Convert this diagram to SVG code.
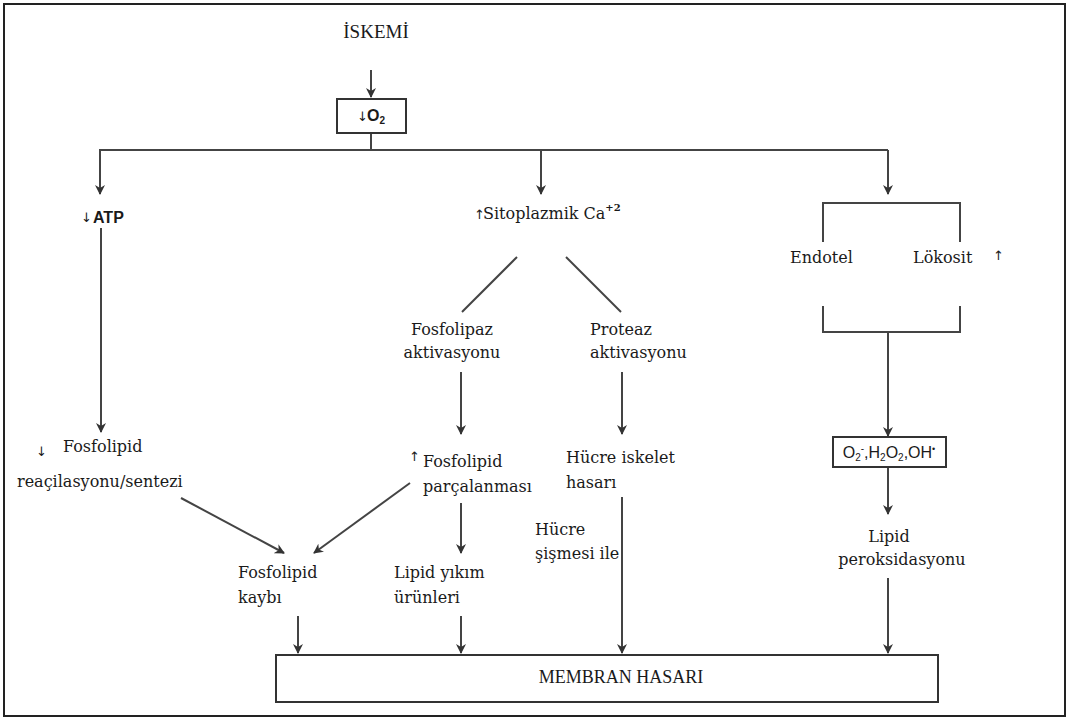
<svg xmlns="http://www.w3.org/2000/svg" width="1070" height="720" viewBox="0 0 1070 720">
<defs>
<marker id="ah" viewBox="0 0 10 10" refX="9" refY="5" markerWidth="10" markerHeight="10" markerUnits="userSpaceOnUse" orient="auto">
<path d="M0,0 L10,5 L0,10 L3,5 Z" fill="#333"/>
</marker>
<style>
.t{font-family:"DejaVu Serif","Liberation Serif",serif;font-size:16px;fill:#1a1a1a}
.r{font-family:"Liberation Serif","Times New Roman",serif;fill:#1a1a1a}
.s{font-family:"Liberation Sans",Arial,sans-serif;font-size:16px;fill:#1a1a1a}
.ar{font-family:"DejaVu Sans","Liberation Sans",sans-serif;font-size:13px;fill:#1a1a1a}
.l{stroke:#444;stroke-width:2;fill:none}
.a{stroke:#444;stroke-width:2;fill:none;marker-end:url(#ah)}
.b{stroke:#333;stroke-width:2;fill:#fff}
</style>
</defs>
<rect x="0" y="0" width="1070" height="720" fill="#fff"/>
<rect x="4" y="4" width="1061" height="712" fill="none" stroke="#222" stroke-width="2"/>

<g id="connectors">
<line class="a" x1="371" y1="70" x2="371" y2="97"/>
<line class="l" x1="371" y1="133" x2="371" y2="150"/>
<line class="l" x1="99" y1="150" x2="888" y2="150"/>
<line class="a" x1="100" y1="150" x2="100" y2="194"/>
<line class="a" x1="541" y1="150" x2="541" y2="194"/>
<line class="a" x1="888" y1="150" x2="888" y2="194"/>
<line class="a" x1="101" y1="228" x2="101" y2="432"/>
<line class="l" x1="517" y1="257" x2="462" y2="312"/>
<line class="l" x1="566" y1="257" x2="621" y2="312"/>
<line class="a" x1="461" y1="372" x2="461" y2="434"/>
<line class="a" x1="622" y1="372" x2="622" y2="434"/>
<line class="a" x1="181" y1="498" x2="284" y2="553"/>
<line class="a" x1="410" y1="483" x2="314" y2="553"/>
<line class="a" x1="461" y1="503" x2="461" y2="553"/>
<line class="a" x1="622" y1="497" x2="622" y2="653"/>
<line class="a" x1="298" y1="616" x2="298" y2="653"/>
<line class="a" x1="461" y1="616" x2="461" y2="653"/>
<polyline class="l" points="823,242 823,203 960,203 960,242"/>
<polyline class="l" points="823,306 823,332 960,332 960,306"/>
<line class="a" x1="888" y1="332" x2="888" y2="436"/>
<line class="a" x1="888" y1="467" x2="888" y2="514"/>
<line class="a" x1="888" y1="578" x2="888" y2="653"/>
</g>

<g id="iskemi"><text class="r" x="376" y="38" font-size="19" text-anchor="middle">İSKEMİ</text></g>
<g id="o2"><rect class="b" x="337" y="99" width="69" height="34"/><text class="ar" x="357" y="121">↓</text><text class="s" x="367" y="121" font-weight="bold" font-size="15">O<tspan font-size="10" dy="3">2</tspan></text></g>
<g id="atp"><text class="ar" x="81" y="222">↓</text><text class="s" x="93" y="223" font-weight="bold">ATP</text></g>
<g id="ca"><text class="ar" x="474" y="219">↑</text><text class="t" x="483" y="219">Sitoplazmik Ca<tspan font-size="10" dy="-8" font-weight="bold">+2</tspan></text></g>
<g id="endotel"><text class="t" x="790" y="263">Endotel</text></g>
<g id="lokosit"><text class="t" x="913" y="263">Lökosit</text><text class="ar" x="993" y="260" font-size="12">↑</text></g>
<g id="fosfolipaz"><text class="t" x="452" y="335" text-anchor="middle">Fosfolipaz</text><text class="t" x="452" y="358" text-anchor="middle">aktivasyonu</text></g>
<g id="proteaz"><text class="t" x="590" y="335">Proteaz</text><text class="t" x="590" y="358">aktivasyonu</text></g>
<g id="fsentez"><text class="ar" x="36" y="456" font-size="12">↓</text><text class="t" x="63" y="452">Fosfolipid</text><text class="t" x="17" y="487">reaçilasyonu/sentezi</text></g>
<g id="fparc"><text class="ar" x="409" y="461" font-size="12">↑</text><text class="t" x="423" y="467">Fosfolipid</text><text class="t" x="423" y="492">parçalanması</text></g>
<g id="iskelet"><text class="t" x="566" y="463">Hücre iskelet</text><text class="t" x="566" y="488">hasarı</text></g>
<g id="sisme"><text class="t" x="535" y="535">Hücre</text><text class="t" x="535" y="559">şişmesi ile</text></g>
<g id="radikal"><rect class="b" x="833" y="437" width="113" height="30"/><text class="s" x="889" y="458" text-anchor="middle" font-size="15">O<tspan font-size="10" dy="3">2</tspan><tspan dy="-9" font-size="10">-</tspan><tspan dy="6">,H</tspan><tspan font-size="10" dy="3">2</tspan><tspan dy="-3">O</tspan><tspan font-size="10" dy="3">2</tspan><tspan dy="-3">,OH</tspan><tspan font-size="9" dy="-6">•</tspan></text></g>
<g id="perok"><text class="t" x="889" y="542" text-anchor="middle">Lipid</text><text class="t" x="902" y="565" text-anchor="middle">peroksidasyonu</text></g>
<g id="kaybi"><text class="t" x="238" y="578">Fosfolipid</text><text class="t" x="238" y="603">kaybı</text></g>
<g id="yikim"><text class="t" x="394" y="578">Lipid yıkım</text><text class="t" x="394" y="603">ürünleri</text></g>
<g id="membran"><rect class="b" x="276" y="655" width="662" height="47"/><text class="r" x="621" y="683" text-anchor="middle" font-size="18">MEMBRAN HASARI</text></g>
</svg>
